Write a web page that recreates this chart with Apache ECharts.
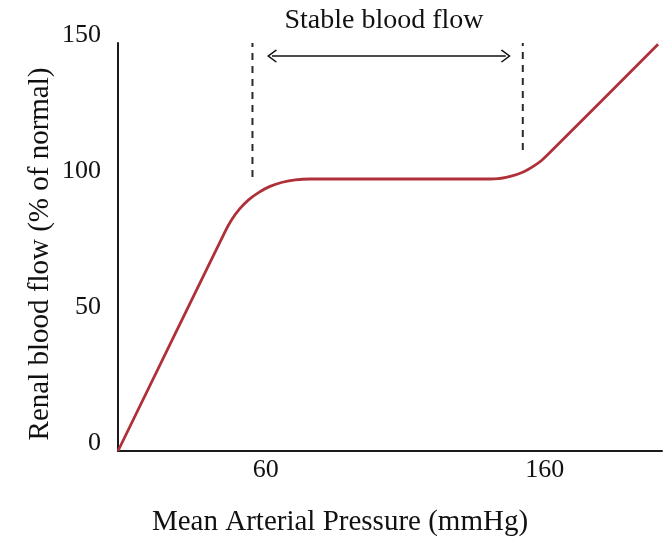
<!DOCTYPE html>
<html>
<head>
<meta charset="utf-8">
<script src="https://cdn.jsdelivr.net/npm/echarts@6/dist/echarts.min.js"></script>
<style>html,body{margin:0;padding:0;background:#fff}#c{width:669px;height:537px}</style>
</head>
<body>
<div id="c"></div>
<script>
// Curve: mean arterial pressure (mmHg) vs renal blood flow (% of normal)
const pressure = [7, 45.3, 47.8, 50.6, 53.9, 57.5, 61.5, 65.9, 70.6, 75.8, 140.3, 143.2, 146.1, 148.9, 151.4, 154.0, 156.4, 158.7, 160.9, 200.6];
const flow     = [0, 80.5, 85.1, 89.0, 92.4, 95.1, 97.3, 98.8, 99.7, 100, 100, 100.1, 100.6, 101.3, 102.2, 103.5, 105.0, 106.7, 108.8, 149.5];
// tick labels
const xTicks = [60, 160];
const yTicks = [0, 50, 100, 150];
// dashed guide lines (x position, bottom value, top value)
const guideX = [55.2, 152.1];
const guideBottom = [100.7, 110.7];
const guideTop = 150;
// stable range arrow
const arrowFrom = 62.2, arrowTo = 146.0, arrowY = 145.2;
const annotation = 'Stable blood flow';
const xTitle = 'Mean Arterial Pressure (mmHg)';
const yTitle = 'Renal blood flow (% of normal)';

const FONT = 'Liberation Serif';
const chevron = 'path://M0,0L10,10L8.6,11.4L0,2.8L-8.6,11.4L-10,10Z';

const chart = echarts.init(document.getElementById('c'));
const curve = pressure.map((p, i) => [p, flow[i]]);
const dashSeries = guideX.map((gx, i) => ({
  type: 'line',
  data: [[gx, guideBottom[i]], [gx, guideTop]],
  symbol: 'none',
  silent: true,
  lineStyle: { color: '#2a2a2a', width: 2, type: [7, 6] },
  z: 1
}));

chart.setOption({
  animation: false,
  backgroundColor: '#fff',
  grid: { left: 118, right: 7, top: 43, bottom: 86 },
  xAxis: {
    type: 'value', min: 7, max: 202,
    axisLine: { show: true, onZero: true, lineStyle: { color: '#1a1a1a', width: 2 } },
    axisTick: { show: false },
    splitLine: { show: false },
    axisLabel: { customValues: xTicks, fontFamily: FONT, fontSize: 26, color: '#111', margin: 6 }
  },
  yAxis: {
    type: 'value', min: 0, max: 150, interval: 50,
    axisLine: { show: true, lineStyle: { color: '#1a1a1a', width: 2 } },
    axisTick: { show: false },
    splitLine: { show: false },
    axisLabel: { customValues: yTicks, fontFamily: FONT, fontSize: 26, color: '#111', margin: 17, verticalAlign: 'bottom', lineHeight: 16 }
  },
  series: [
    {
      type: 'line',
      data: curve,
      symbol: 'none',
      smooth: 0.2,
      lineStyle: { color: '#b0303a', width: 2.8 },
      z: 3,
      markLine: {
        silent: true,
        symbol: [chevron, chevron],
        symbolSize: [13, 10],
        label: { show: false },
        lineStyle: { color: '#111', width: 1.6, type: 'solid' },
        data: [[{ coord: [arrowFrom, arrowY] }, { coord: [arrowTo, arrowY] }]]
      }
    },
    ...dashSeries
  ],
  graphic: [
    { type: 'text', x: 384, y: 21, style: { text: annotation, fontFamily: FONT, fontSize: 28, fill: '#111', align: 'center', verticalAlign: 'middle' } },
    { type: 'text', x: 340, y: 522, style: { text: xTitle, fontFamily: FONT, fontSize: 29, fill: '#111', align: 'center', verticalAlign: 'middle' } },
    { type: 'text', x: 40, y: 254, rotation: Math.PI / 2, style: { text: yTitle, fontFamily: FONT, fontSize: 29, fill: '#111', align: 'center', verticalAlign: 'middle' } }
  ]
});
</script>
</body>
</html>
